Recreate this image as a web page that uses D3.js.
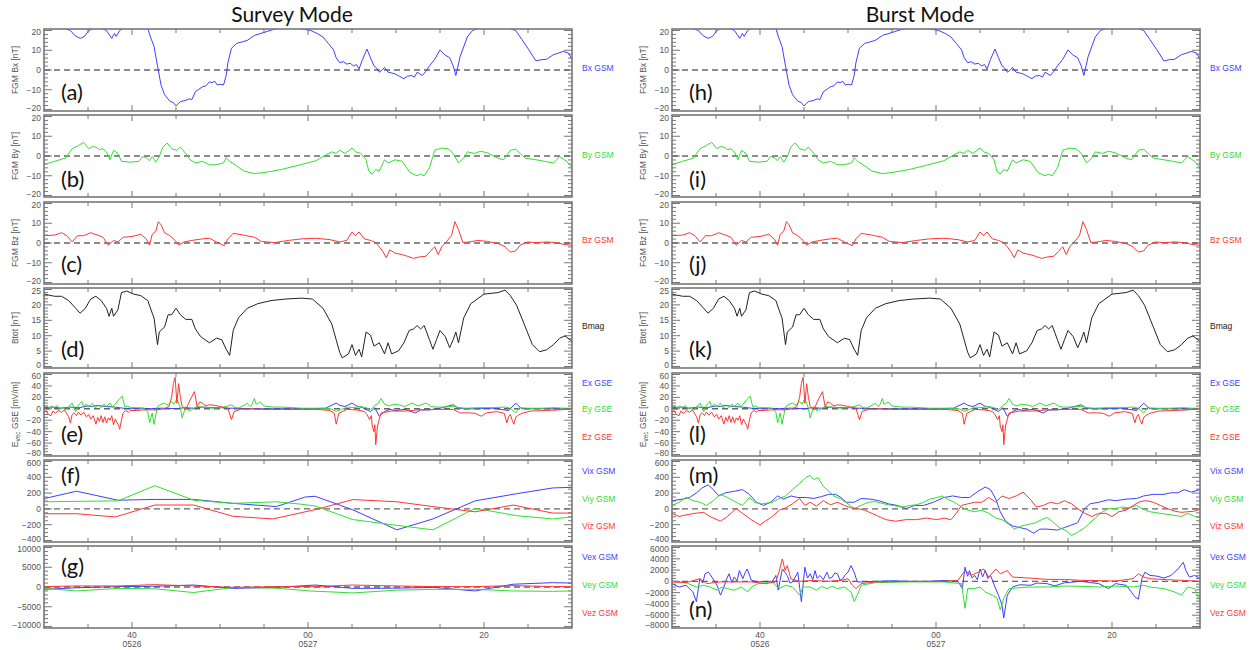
<!DOCTYPE html>
<html>
<head>
<meta charset="utf-8">
<script src="https://cdn.jsdelivr.net/npm/d3@7"></script>
<style>
  html, body { margin: 0; padding: 0; background: #fff; }
  svg { display: block; }
  .tick-label { font-family: "Liberation Sans", Arial, sans-serif; font-size: 8.5px; fill: #555; }
  .ytitle { font-family: "Liberation Sans", Arial, sans-serif; font-size: 8.5px; fill: #555; }
  .side { font-family: "Liberation Sans", Arial, sans-serif; font-size: 8.5px; }
  .letter { font-family: Lato, "Open Sans", sans-serif; font-size: 22px; fill: #111; }
  .title { font-family: Lato, "Open Sans", sans-serif; font-size: 21px; fill: #111; }
</style>
</head>
<body>
<svg id="chart" width="1250" height="650"></svg>
<script>
// Time axis: minutes after 23:30 on 05/26
const timeTicks = [10, 30, 50];
const timeTickLabels = [["40", "0526"], ["00", "0527"], ["20", ""]];

// FGM magnetic field components [nT]
const bxGsm = [[0,23],[1.5,22.5],[3.0,20],[3.5,17.5],[4.1,16],[4.6,17],[5.1,20],[6,22],[7.1,20],[7.4,18],[7.7,16],[8.0,18.5],[8.2,17],[8.6,20],[10,24],[11.8,21],[12.1,16.7],[12.5,12],[12.9,2],[13.3,-7.6],[13.7,-12.5],[14.3,-15.8],[14.7,-16.5],[15.0,-18.2],[15.5,-16],[16.1,-15.4],[16.5,-14.6],[16.8,-15],[17.2,-11],[17.6,-9.8],[18.0,-8.5],[18.4,-8],[18.8,-6],[19.1,-6.4],[19.4,-5.7],[19.7,-7.6],[20.0,-7.2],[20.4,-7.6],[20.7,-2.8],[20.9,3.7],[21.3,11],[21.9,13.5],[22.5,14.2],[23.1,15],[23.9,17.5],[25.0,19],[26.2,20.7],[28,22],[30.3,20],[31.0,18.6],[31.7,16.7],[32.3,13.5],[32.9,10.2],[33.2,6.2],[33.6,3.7],[34.0,4.2],[34.4,3],[34.8,3.4],[35.2,2],[35.5,2.8],[35.8,0.5],[36.2,5.4],[36.7,10.6],[37.1,6.2],[37.5,2.1],[37.8,1],[38.1,-1.1],[38.4,-0.2],[38.7,1.3],[39.1,-1.1],[39.5,-1.5],[39.9,-2],[40.4,-3.2],[40.9,-4.4],[41.3,-3.1],[41.8,-2.8],[42.1,-3.6],[42.4,-1.1],[43.0,-2.8],[43.4,-0.6],[43.8,2.1],[44.4,5.4],[45.0,10.2],[45.5,7.8],[46.1,6.2],[46.5,2.1],[46.8,-2.8],[47.3,7],[48.1,16.7],[48.7,20],[51,24],[53.6,20],[54.3,15.5],[55.1,10.2],[55.9,4.6],[56.5,5.2],[57.1,5.4],[57.9,7.8],[58.5,8.6],[59.0,9.4],[59.6,8.6],[60,5.4]];
const byGsm = [[0,-4.4],[1.2,-2.7],[2.4,-1.1],[3.2,3.7],[3.9,5.3],[4.5,6.9],[5.1,3.7],[5.5,4.8],[5.9,4.5],[6.3,3.2],[6.7,3.7],[7.1,2.1],[7.5,-1.9],[7.9,2.9],[8.4,1.3],[8.8,-2.7],[9.8,-3.1],[10.8,-2.7],[11.2,-0.3],[11.6,-0.8],[12.0,-2.4],[12.3,-0.3],[12.7,-3.1],[13.1,-0.3],[13.5,4.5],[14.0,6.6],[14.5,3.7],[15.1,2.9],[15.5,4.5],[16.1,1.3],[16.6,-1.9],[17.2,-3.5],[18.0,-2.7],[18.8,-4.4],[19.6,-4.4],[20.4,-3.5],[20.7,-0.8],[21.1,-2.7],[21.7,-4.4],[22.7,-7.6],[23.9,-8.9],[25.0,-8.4],[27.0,-6.8],[28.9,-4.7],[30.9,-2.4],[31.9,0.2],[32.7,2.1],[33.2,1.3],[33.6,2.9],[34.2,1.3],[35.0,4.0],[35.4,2.1],[36.0,1.3],[36.6,-1.9],[36.9,-7.6],[37.3,-9.2],[37.7,-6.8],[38.1,-7.6],[38.7,-1.9],[39.1,-3.5],[39.9,-1.9],[40.7,-2.7],[41.1,-5.2],[41.6,-8.4],[42.4,-10],[42.8,-9.2],[43.2,-10],[43.8,-6],[44.4,2.9],[45.2,4.0],[45.9,3.7],[46.5,1.3],[47.1,-3.5],[47.7,-1.1],[48.1,2.1],[48.9,1.3],[49.6,2.4],[50.4,1.6],[51.6,-1.1],[52.2,-1.9],[53.0,2.9],[53.6,3.4],[54.1,1.3],[54.7,-1.1],[55.9,-1.9],[56.9,-2.7],[57.9,-3.5],[58.6,-0.3],[59.4,-2.7],[60,-6]];
const bzGsm = [[0,3.7],[1.2,4],[2.0,5.2],[2.6,3.7],[3.2,0.5],[3.8,3.7],[4.5,3.7],[5.3,5.2],[6.1,4],[6.7,2.9],[7.3,-1.1],[7.9,1.3],[8.4,0.5],[9.0,2.9],[10.0,3.3],[11.0,4.4],[11.6,2.1],[12.0,-1.1],[12.3,4.4],[12.7,6],[13.0,10.8],[13.3,9.2],[13.7,5.2],[14.3,3.7],[14.9,1.3],[15.3,-1.1],[15.9,0.5],[16.8,1.3],[18.0,2.1],[18.8,2.4],[19.6,0.5],[20.5,-1.4],[20.9,2.1],[21.5,4.9],[22.7,4],[23.9,2.9],[24.7,0.8],[26.2,0.2],[27.8,1.3],[29.3,2.1],[30.9,2.4],[32.5,1.7],[33.6,0.5],[34.4,1.3],[35.0,5.6],[35.4,3.7],[35.8,5.6],[36.4,2.1],[37.1,1.3],[37.7,0.2],[38.1,-1.9],[38.5,-4.3],[38.9,-7.5],[39.3,-3.5],[39.9,-5.1],[40.7,-5.9],[41.3,-6.7],[42.0,-7.8],[42.6,-7.1],[43.4,-6.7],[43.9,-4.3],[44.4,-1.9],[44.8,-5.9],[45.2,-1.9],[45.7,0.5],[46.3,3.7],[46.7,10.8],[47.1,6.8],[47.6,0.2],[48.3,0.5],[49.3,1.3],[50.4,0.8],[51.6,-0.3],[52.4,-1.9],[53.0,-4.6],[53.6,-4],[54.1,-1.1],[54.9,0.5],[55.9,0.2],[57.1,0.5],[58.2,0.2],[59.2,-0.8],[60,-1.1]];
const bmag = [[0,23.5],[1.2,22.8],[2.0,22.8],[2.8,21.4],[3.6,18.9],[4.1,17.3],[4.7,18.9],[5.3,21.9],[5.9,22.8],[6.5,21.4],[7.1,18.9],[7.4,16.3],[7.7,18.9],[7.9,16.3],[8.4,18.4],[8.8,24],[9.4,24.5],[10.2,23.5],[11.0,23],[11.8,21.4],[12.3,17.3],[12.5,15.8],[12.9,7.1],[13.1,11.2],[13.7,12.8],[14.1,16.8],[14.5,16.8],[15.0,18.9],[15.5,16.8],[16.1,15.3],[16.8,15.3],[17.2,12.2],[17.8,9.7],[18.8,7.7],[19.6,9.2],[20.2,8.7],[20.7,5.6],[21.1,3.6],[21.5,11.7],[22.1,15.8],[23.1,18.9],[24.3,20.4],[25.8,21.4],[27.4,21.9],[29.3,22.2],[30.5,21.9],[31.7,18.9],[32.7,13.8],[33.2,8.7],[33.6,4.6],[33.9,2.8],[34.6,4.1],[35.0,7.1],[35.4,3.6],[35.8,5.6],[36.1,3.1],[36.6,11.2],[37.1,10.2],[37.5,6.6],[38.1,7.7],[38.7,4.1],[39.1,7.7],[39.5,4.1],[40.3,5.1],[40.9,7.7],[41.5,11.7],[42.0,12.2],[42.4,13.3],[42.8,12.2],[43.2,13.3],[43.8,8.7],[44.2,5.6],[44.6,8.7],[45.0,11.7],[45.6,9.7],[46.1,6.1],[46.5,8.7],[46.8,11.2],[47.1,7.7],[47.7,15.8],[48.5,20.4],[50.0,23.5],[51.6,24],[52.4,24.8],[53.0,23],[53.7,19.9],[54.7,12.8],[55.5,7.1],[56.3,4.8],[57.1,5.4],[57.9,7.1],[58.6,9.2],[59.2,9.9],[60,8.2]];

// Electric field components [mV/m]
const exGse = [[0,2],[1,3],[2,1],[3,3],[4,2],[5,5],[5.5,4],[6,6],[7,4],[8,3],[9,1],[10,0],[11,1],[12,0],[13,1],[14,1],[15,0],[16,2],[17,1],[18,3],[19,2],[20,2],[21,1],[22,1],[23,0],[24,0],[26,0],[28,0],[30,0],[32,1],[33.2,10],[33.6,6],[34.2,4],[35.0,10],[35.5,5],[36.2,2],[37.1,-5],[37.6,2],[38.1,-13],[38.7,-4.6],[39.3,-1],[39.9,-3],[41,-1],[42.2,-7.4],[42.8,-2],[43.8,-2],[45,1],[46.5,7],[47.0,2],[47.7,0],[49.3,0],[51,1],[52.8,-3],[53.6,9.7],[54.3,0],[56,0],[58,0],[60,0]];
const eyGse = [[0,3],[0.3,6],[0.6,1],[0.9,5],[1.2,2],[1.5,6],[1.8,0],[2.2,3],[2.5,-2],[2.8,4],[3.2,10],[3.4,2],[3.6,-5],[3.9,6],[4.3,13],[4.5,4],[4.8,8],[5.1,3],[5.5,10],[5.8,2],[6.2,6],[6.5,2],[6.8,8],[7.1,4],[7.5,10],[7.8,3],[8.0,7],[8.3,12],[8.6,18],[8.9,22],[9.1,8],[9.2,3],[9.5,5],[9.8,2],[10.5,2],[11.4,1],[11.8,-6],[12.0,-24.6],[12.3,-7.4],[12.5,-27.4],[12.9,4],[13.3,8],[13.7,10],[14.1,6],[14.5,12.6],[14.8,8],[15.1,18],[15.5,1],[15.7,-16],[16.1,4],[16.4,-3],[16.8,-1.7],[17.4,4],[18.0,3],[18.6,2],[19.2,1],[20.0,2],[20.7,4],[21.3,6.9],[21.7,2],[22.1,1],[22.6,5],[23.1,9.7],[23.4,4],[23.6,6],[23.9,18],[24.1,8],[24.3,9.7],[24.6,12],[25.0,5],[26,3],[27.0,3],[28.2,2],[29.3,1],[30.5,1],[31.7,1],[32.6,0],[33.2,-4.6],[33.8,-1],[34.5,3],[35.2,2],[36,4],[36.6,2],[37.1,-2],[37.6,6],[38.0,10],[38.3,18],[38.7,8],[39.2,5],[39.7,8],[40.3,7],[41,4],[41.8,10],[42.5,5],[43.4,10],[44,4],[44.5,3],[45.5,3],[46.5,4],[47.2,2],[48,1],[49.5,2],[51,2],[52.4,3],[53.0,1],[53.6,-7.4],[54,2],[55,1],[56.5,1],[58,2],[59,1],[60,1]];
const ezGse = [[0,-7],[0.25,-3],[0.5,-10],[0.8,-12],[1.0,-4],[1.3,-8],[1.6,-3],[2.0,-6],[2.3,-2],[2.6,-9],[2.8,-14],[3.0,-25],[3.2,-10],[3.4,-7],[3.7,-12],[3.9,-6],[4.2,-11],[4.5,-6],[4.8,-14],[5.1,-10],[5.3,-18],[5.6,-12],[5.9,-27],[6.1,-15],[6.3,-22],[6.5,-12],[6.7,-24],[6.9,-14],[7.1,-25],[7.3,-16],[7.5,-20],[7.7,-12],[7.9,-28],[8.1,-18],[8.3,-24],[8.5,-30],[8.6,-36],[8.8,-20],[9.0,-7],[9.3,-3],[9.6,-6],[9.8,-3],[10.5,-3],[11.2,-2],[12.1,-1.7],[12.8,-2],[13.7,0],[14.2,4],[14.5,20],[14.7,44],[14.9,55],[15.1,9.7],[15.3,44],[15.5,20],[15.7,4],[16.1,-1.7],[16.4,8],[16.6,15.4],[17.1,30],[17.4,4],[17.7,12],[18.0,9.7],[18.4,5],[18.8,7],[19.4,6],[20.0,4],[20.5,2],[20.9,1],[21.3,-19],[21.6,-5],[22.3,-1],[23.5,0],[25,-1],[27,-1],[29,-1],[31,-1],[32.5,-3],[33.0,-8],[33.2,-27],[33.5,-8],[34.4,-1],[35.5,-2],[36.4,-4.6],[36.7,-10],[37.0,-19],[37.2,-12],[37.3,-30],[37.5,-40],[37.6,-28],[37.7,-63],[37.9,-30],[38.1,-18],[38.3,-7.4],[39.5,-4],[41,-4],[42.5,-2],[44.5,-1],[46.5,-1],[47.3,-7.4],[48.2,-7],[49.0,-8],[49.7,-13],[50.3,-7],[51.5,-5],[52.3,-8],[52.6,-24.6],[52.8,-14],[53.0,-10],[53.2,-20],[53.4,-27],[53.6,-15],[53.8,-12],[54.3,-8],[55.3,-4],[57,-3],[58.5,-2],[60,0]];

// Survey-mode ion bulk velocity [km/s]
const vixSurvey = [[0,130],[3.7,224],[8.4,110],[12.6,120],[17,120],[21.5,70],[26.4,29],[29.7,151],[30.8,160],[35.1,-12],[40.1,-265],[44.2,-127],[49,102],[53.7,192],[57.8,265],[60,273]];
const viySurvey = [[0,90],[8.4,102],[12.6,294],[17,110],[21.5,70],[26.4,90],[29.1,61],[30.8,37],[35.1,-135],[40.1,-208],[44.2,-265],[49,8],[53.7,-86],[57.8,-127],[60,-102]];
const vizSurvey = [[0,-61],[3.7,-61],[8.1,-102],[12.6,49],[17,49],[21.5,-94],[26.0,-127],[31,-5],[35.1,118],[40.1,90],[44.2,29],[49,-37],[53.3,49],[57.8,-53],[60,-53]];

// Survey-mode electron bulk velocity [km/s]
const vexSurvey = [[0,-600],[3.7,-200],[8.4,100],[12.6,200],[17,500],[21.5,-350],[26.4,-100],[30.8,500],[35.1,-350],[40.1,-300],[44.2,-100],[49,-1000],[53.3,700],[57.8,1100],[60,1000]];
const veySurvey = [[0,-350],[3.7,-1000],[8.4,-350],[12.6,-450],[17,-1400],[21.5,-100],[26.4,-300],[30.2,-1000],[35.1,-1500],[40.1,-800],[44.2,-600],[49,-600],[53.3,-1000],[57.8,-1100],[60,-1000]];
const vezSurvey = [[0,100],[3.7,260],[8.4,260],[12.6,600],[17,260],[21.5,-100],[26.4,100],[30.8,100],[35.1,500],[40.1,260],[44.2,100],[49,100],[53.3,350],[57.8,100],[60,100]];

// Burst-mode ion bulk velocity [km/s]
const vixBurst = [[0,104],[1.2,124],[2.0,144],[2.8,204],[3.4,264],[4.1,304],[4.7,244],[5.3,164],[6.1,204],[7.1,224],[8.0,244],[8.8,184],[9.6,84],[10.4,44],[11.2,84],[12.0,164],[12.7,124],[13.5,164],[14.3,144],[15.3,144],[16.1,132],[17.0,156],[17.8,184],[18.6,184],[19.2,144],[19.8,84],[20.7,84],[21.5,132],[22.5,124],[23.5,104],[24.6,64],[25.6,44],[26.6,4],[27.6,44],[28.6,44],[29.7,84],[30.9,144],[31.9,164],[32.9,144],[33.8,144],[34.8,224],[35.6,276],[36.2,244],[36.8,124],[37.3,-36],[37.9,-156],[38.7,-216],[39.5,-236],[40.3,-256],[41.1,-308],[41.8,-256],[42.6,-256],[43.8,-268],[44.6,-236],[45.4,-204],[46.1,-176],[46.9,4],[47.5,64],[48.5,84],[49.6,116],[50.4,104],[51.6,124],[52.8,132],[53.6,164],[54.7,184],[55.9,184],[56.7,204],[57.5,204],[58.2,244],[59.0,212],[60,244]];
const viyBurst = [[0,44],[0.8,84],[1.6,144],[2.4,104],[3.2,84],[3.9,44],[4.7,104],[5.5,184],[6.3,144],[7.3,84],[8.0,44],[8.8,144],[9.4,84],[10.2,64],[11.4,84],[12.2,132],[12.9,164],[13.7,244],[14.5,324],[15.3,404],[15.7,424],[16.1,372],[16.6,396],[17.2,284],[17.8,224],[18.4,164],[19.2,124],[20.0,64],[20.7,4],[21.5,44],[22.3,84],[23.1,92],[24.1,64],[25.0,44],[26.2,24],[27.0,44],[27.8,52],[28.6,84],[29.3,124],[30.1,144],[30.7,164],[31.3,124],[32.1,84],[32.9,24],[33.6,-16],[34.4,-36],[35.2,-16],[36.0,-56],[36.8,-116],[37.5,-136],[38.3,-196],[38.9,-256],[39.7,-216],[40.5,-196],[41.3,-176],[42.0,-136],[42.6,-108],[43.2,-156],[44.0,-236],[44.8,-276],[45.4,-336],[46.1,-296],[46.9,-236],[47.5,-176],[48.1,-116],[48.9,-36],[49.6,4],[50.4,4],[51.2,24],[52.0,12],[52.8,44],[53.4,4],[54.3,-36],[55.5,-56],[56.7,-76],[57.9,-96],[58.6,-56],[59.4,-96],[60,-116]];
const vizBurst = [[0,-56],[0.8,-96],[1.6,-76],[2.6,-56],[3.6,-44],[4.3,-96],[5.5,-156],[6.3,-96],[7.3,4],[8.0,-56],[9.0,-136],[10.0,-204],[10.6,-156],[11.4,-96],[12.2,-16],[12.9,12],[13.7,64],[14.5,132],[15.1,44],[15.7,84],[16.4,36],[17.2,104],[18.0,52],[18.8,84],[19.6,44],[20.4,12],[21.1,4],[21.9,-16],[22.7,-56],[23.5,-96],[24.3,-136],[25.4,-156],[26.6,-136],[27.8,-136],[28.9,-116],[30.1,-136],[30.9,-116],[31.7,-136],[32.3,-56],[32.9,44],[33.6,64],[34.4,84],[35.2,84],[36.0,144],[36.8,84],[37.5,164],[38.3,132],[39.1,164],[39.9,212],[40.7,124],[41.4,24],[42.2,44],[43.0,84],[43.8,64],[44.6,104],[45.4,64],[46.1,4],[46.9,-56],[47.7,-96],[48.5,-56],[49.3,-56],[50.0,-96],[50.8,-36],[51.6,-16],[52.4,44],[53.2,92],[53.9,104],[54.7,84],[55.5,44],[56.3,4],[57.1,-28],[57.9,-44],[58.6,-36],[59.4,-28],[60,-4]];

// Burst-mode electron bulk velocity [km/s]
const vexBurst = [[0,-400],[0.82,-1000],[1.6,-700],[2.38,-1900],[2.77,-3600],[3.16,470],[3.5,-300],[3.75,1340],[4.14,1630],[4.53,760],[5.12,-700],[5.51,-2450],[5.9,-1000],[6.2,400],[6.48,1340],[6.8,-200],[7.07,760],[7.4,100],[7.66,1920],[8.05,470],[8.3,1500],[8.55,2200],[9.02,170],[9.8,-100],[10.8,0],[11.4,0],[11.8,1050],[12.07,-1570],[12.54,2200],[13.1,1050],[13.4,-300],[13.7,-100],[14.3,1630],[14.7,-3600],[15.1,2500],[15.4,600],[15.7,1340],[16.0,300],[16.25,1920],[16.5,500],[16.8,1050],[17.2,300],[17.6,1630],[17.9,500],[18.2,760],[18.5,1500],[18.8,1340],[19.1,200],[19.4,470],[19.7,1200],[20.0,1630],[20.35,2800],[20.7,1630],[21.05,-100],[21.5,-100],[23.1,0],[25,100],[27,0],[29,0],[31,150],[32.5,0],[33.0,-1280],[33.3,2500],[33.6,900],[33.8,1920],[34.1,600],[34.4,1050],[34.7,300],[35.0,2200],[35.3,800],[35.6,1920],[35.9,500],[36.2,1050],[36.7,-1000],[37.1,-2450],[37.5,-4200],[37.7,-6500],[38.1,-2450],[38.7,-1000],[39.5,-600],[40.7,-700],[41.5,-300],[42.6,-400],[43.5,-800],[44.6,-250],[46.5,0],[48.5,-400],[49.6,-1280],[50.4,-400],[51.6,-700],[52.2,-1870],[52.6,-2740],[53.0,-3150],[53.4,470],[53.75,1630],[54.3,1050],[55.1,930],[55.9,580],[56.7,1050],[57.5,2200],[58.1,3380],[58.4,1920],[58.8,760],[59.4,1050],[60,470]];
const veyBurst = [[0,0],[1.6,-230],[2.77,-1000],[3.55,-700],[4.34,-1000],[5.12,-1570],[5.7,-1000],[6.29,-1280],[7.07,-1570],[7.85,-1000],[8.63,-1870],[9.02,-1000],[9.8,-400],[11.4,-100],[12.15,-1280],[12.93,-700],[13.7,-1000],[14.5,-2450],[14.9,-1000],[15.7,-1000],[16.4,-1570],[17.0,-900],[17.6,-1280],[18.2,-900],[18.8,-1280],[19.6,-1000],[20.35,-1870],[20.7,-3600],[21.05,-2450],[21.5,-700],[23.1,-230],[27.0,-100],[30.9,-100],[32.9,-400],[33.3,-4780],[33.6,-1280],[34.4,-1280],[35.0,-1000],[35.6,-1870],[36.4,-2450],[36.95,-3000],[37.3,-5070],[37.7,-3000],[38.3,-1280],[40.7,-1000],[42.6,-1000],[44.6,-830],[46.5,-880],[48.5,-1000],[50.4,-830],[52.4,-1000],[53.6,-700],[54.3,-1000],[55.9,-1280],[57.1,-1870],[57.9,-2450],[58.6,-1000],[59.4,-1280],[60,-3600]];
const vezBurst = [[0,-100],[1.6,-230],[3.16,470],[3.95,-400],[5.51,-100],[7.46,-100],[9.02,-100],[10.6,-400],[11.8,-100],[12.15,1630],[12.54,3960],[12.85,1920],[13.1,2800],[13.5,470],[14.5,0],[16.1,170],[17.6,0],[19.2,170],[20.0,470],[20.5,-700],[20.9,-1280],[21.5,-400],[23.1,-100],[27.0,0],[30.9,0],[32.5,170],[33.3,1920],[34.0,1050],[34.8,1630],[35.4,2200],[36.0,760],[36.8,2200],[37.3,1340],[38.1,1920],[38.7,760],[40.7,580],[42.6,350],[44.6,350],[46.5,170],[48.5,120],[50.4,60],[52.4,470],[53.0,1340],[53.6,760],[54.3,470],[56.3,290],[58.2,170],[60,0]];

const BLUE = "#3f3fff", GREEN = "#2fe02f", RED = "#ff3535", BLACK = "#222";

const svg = d3.select("#chart");
const plotW = 528;
const columns = [
  { x0: 44, title: "Survey Mode", letters: ["a","b","c","d","e","f","g"], ion: [vixSurvey, viySurvey, vizSurvey], ele: [vexSurvey, veySurvey, vezSurvey], eleDomain: [-10000, 10000], eleTicks: [10000, 5000, 0, -5000, -10000], eleMinor: 1000 },
  { x0: 672, title: "Burst Mode", letters: ["h","i","j","k","l","m","n"], ion: [vixBurst, viyBurst, vizBurst], ele: [vexBurst, veyBurst, vezBurst], eleDomain: [-8000, 6000], eleTicks: [6000, 4000, 2000, 0, -2000, -4000, -6000, -8000], eleMinor: 500 }
];
const rows = [
  { top: 29, bottom: 111 }, { top: 115, bottom: 197 }, { top: 202, bottom: 284 },
  { top: 288, bottom: 368 }, { top: 373, bottom: 456 }, { top: 460, bottom: 542 }, { top: 546, bottom: 628 }
];
const fmt = v => (v < 0 ? "\u2212" + Math.abs(v) : String(v));

let clipId = 0;
function drawPanel(col, row, spec) {
  const x = d3.scaleLinear().domain([0, 60]).range([col.x0, col.x0 + plotW]);
  const y = d3.scaleLinear().domain(spec.domain).range([row.bottom - 1.5, row.top + 1.5]);
  const g = svg.append("g");
  const id = "clip" + (clipId++);
  svg.append("clipPath").attr("id", id).append("rect")
    .attr("x", col.x0).attr("y", row.top).attr("width", plotW).attr("height", row.bottom - row.top);

  // ticks on all four sides, pointing inward
  const minors = d3.range(spec.domain[0], spec.domain[1] + 1e-9, spec.minor);
  minors.forEach(v => {
    const major = spec.ticks.includes(v);
    const len = major ? 8 : 4;
    g.append("line").attr("x1", col.x0).attr("x2", col.x0 + len).attr("y1", y(v)).attr("y2", y(v)).attr("stroke", "#777").attr("stroke-width", 1);
    g.append("line").attr("x1", col.x0 + plotW).attr("x2", col.x0 + plotW - len).attr("y1", y(v)).attr("y2", y(v)).attr("stroke", "#777").attr("stroke-width", 1);
  });
  // tick labels kept inside the panel's own band so neighbouring panels don't collide
  spec.ticks.forEach(v => {
    const yy = Math.max(row.top + 5.5, Math.min(row.bottom - 0.5, y(v) + 3));
    g.append("text").attr("class", "tick-label").attr("x", col.x0 - 3).attr("y", yy)
      .attr("text-anchor", "end").text(fmt(v));
  });
  d3.range(5, 60, 5).forEach(t => {
    const len = timeTicks.includes(t) ? 6 : 4;
    g.append("line").attr("x1", x(t)).attr("x2", x(t)).attr("y1", row.top).attr("y2", row.top + len).attr("stroke", "#777");
    g.append("line").attr("x1", x(t)).attr("x2", x(t)).attr("y1", row.bottom).attr("y2", row.bottom - len).attr("stroke", "#777");
  });

  if (spec.zero) {
    g.append("line").attr("x1", col.x0).attr("x2", col.x0 + plotW).attr("y1", y(0)).attr("y2", y(0))
      .attr("stroke", "#666").attr("stroke-width", 1.4).attr("stroke-dasharray", "6,4");
  }

  const line = d3.line().x(d => x(d[0])).y(d => y(d[1]));
  const lines = g.append("g").attr("clip-path", `url(#${id})`);
  spec.series.forEach(s => {
    lines.append("path").datum(s.data).attr("d", line).attr("fill", "none")
      .attr("stroke", s.color).attr("stroke-width", 1).attr("stroke-linejoin", "round");
  });

  g.append("rect").attr("x", col.x0).attr("y", row.top).attr("width", plotW).attr("height", row.bottom - row.top)
    .attr("fill", "none").attr("stroke", "#777").attr("stroke-width", 1.6);

  spec.labels.forEach(l => {
    g.append("text").attr("class", "side").attr("x", col.x0 + plotW + 10).attr("y", l.y + 3)
      .attr("fill", l.color).text(l.text);
  });

  if (spec.ytitle) {
    const t = g.append("text").attr("class", "ytitle")
      .attr("transform", `translate(${col.x0 - 26},${(row.top + row.bottom) / 2}) rotate(-90)`)
      .attr("text-anchor", "middle");
    spec.ytitle(t);
  }

  g.append("text").attr("class", "letter").attr("x", col.x0 + 17).attr("y", spec.letterY).text(`(${spec.letter})`);
  return x;
}

columns.forEach(col => {
  svg.append("text").attr("class", "title").attr("x", col.x0 + 248).attr("y", 22)
    .attr("text-anchor", "middle").text(col.title);

  const specs = [
    { domain: [-20, 20], ticks: [20, 10, 0, -10, -20], minor: 2, zero: true, letterY: 100,
      series: [{ data: bxGsm, color: BLUE }], labels: [{ text: "Bx GSM", color: BLUE, y: 68 }],
      ytitle: t => t.text("FGM Bx [nT]") },
    { domain: [-20, 20], ticks: [20, 10, 0, -10, -20], minor: 2, zero: true, letterY: 187,
      series: [{ data: byGsm, color: GREEN }], labels: [{ text: "By GSM", color: GREEN, y: 155 }],
      ytitle: t => t.text("FGM By [nT]") },
    { domain: [-20, 20], ticks: [20, 10, 0, -10, -20], minor: 2, zero: true, letterY: 272,
      series: [{ data: bzGsm, color: RED }], labels: [{ text: "Bz GSM", color: RED, y: 240 }],
      ytitle: t => t.text("FGM Bz [nT]") },
    { domain: [0, 25], ticks: [25, 20, 15, 10, 5, 0], minor: 1, zero: false, letterY: 357,
      series: [{ data: bmag, color: BLACK }], labels: [{ text: "Bmag", color: BLACK, y: 326 }],
      ytitle: t => t.text("Btot [nT]") },
    { domain: [-80, 60], ticks: [60, 40, 20, 0, -20, -40, -60, -80], minor: 5, zero: true, letterY: 442,
      series: [{ data: exGse, color: BLUE }, { data: eyGse, color: GREEN }, { data: ezGse, color: RED }],
      labels: [{ text: "Ex GSE", color: BLUE, y: 383 }, { text: "Ey GSE", color: GREEN, y: 409 }, { text: "Ez GSE", color: RED, y: 437 }],
      ytitle: t => { t.append("tspan").text("E"); t.append("tspan").attr("font-size", "6.5px").attr("dy", 1.5).text("vec"); t.append("tspan").attr("dy", -1.5).text(" GSE [mV/m]"); } },
    { domain: [-400, 600], ticks: [600, 400, 200, 0, -200, -400], minor: 50, zero: true, letterY: 483,
      series: [{ data: col.ion[0], color: BLUE }, { data: col.ion[1], color: GREEN }, { data: col.ion[2], color: RED }],
      labels: [{ text: "Vix GSM", color: BLUE, y: 471 }, { text: "Viy GSM", color: GREEN, y: 499 }, { text: "Viz GSM", color: RED, y: 526 }] },
    { domain: col.eleDomain, ticks: col.eleTicks, minor: col.eleMinor, zero: true, letterY: col.x0 > 100 ? 617 : 574,
      series: [{ data: col.ele[0], color: BLUE }, { data: col.ele[1], color: GREEN }, { data: col.ele[2], color: RED }],
      labels: [{ text: "Vex GSM", color: BLUE, y: 557 }, { text: "Vey GSM", color: GREEN, y: 585 }, { text: "Vez GSM", color: RED, y: 613 }] }
  ];

  let x;
  specs.forEach((spec, i) => {
    spec.letter = col.letters[i];
    x = drawPanel(col, rows[i], spec);
  });

  timeTicks.forEach((t, i) => {
    const [l1, l2] = timeTickLabels[i];
    svg.append("text").attr("class", "tick-label").attr("x", x(t)).attr("y", 638).attr("text-anchor", "middle").text(l1);
    if (l2) svg.append("text").attr("class", "tick-label").attr("x", x(t)).attr("y", 647).attr("text-anchor", "middle").text(l2);
  });
});
</script>
</body>
</html>
